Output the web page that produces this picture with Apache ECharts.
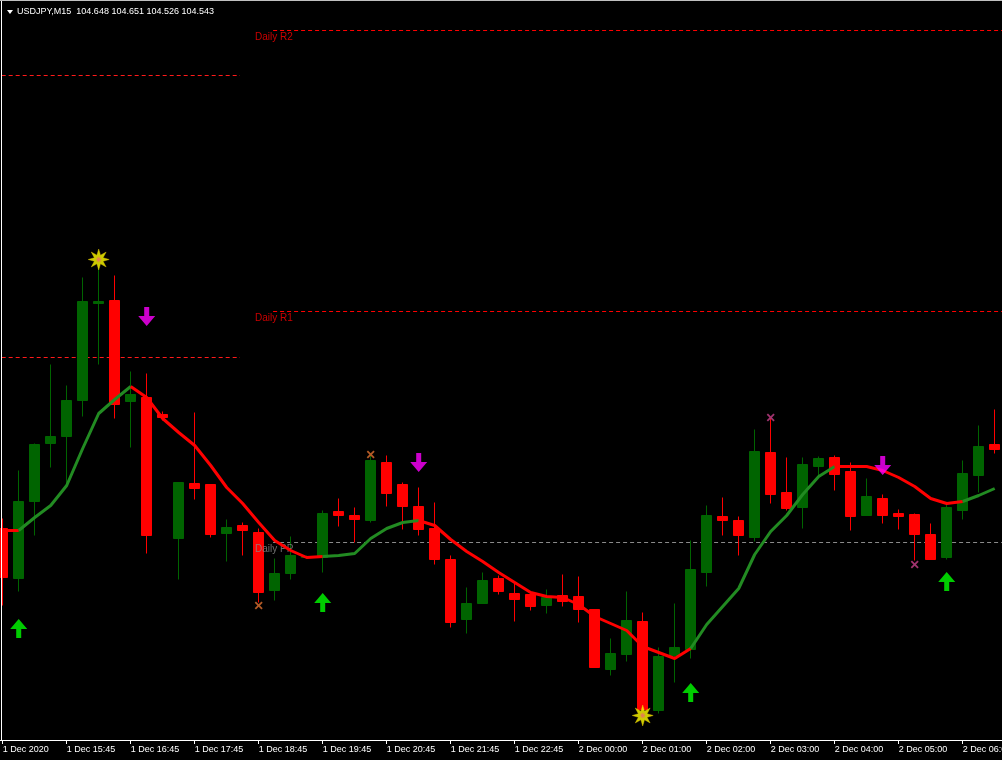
<!DOCTYPE html>
<html><head><meta charset="utf-8">
<script src="https://cdn.jsdelivr.net/npm/echarts@6/dist/echarts.min.js"></script>
<style>html,body{margin:0;padding:0;background:#000;}#c{width:1002px;height:760px;}</style>
</head><body><div id="c"></div>
<script>
// ---- data ----
const times = ['1 Dec 14:45','1 Dec 15:00','1 Dec 15:15','1 Dec 15:30','1 Dec 15:45','1 Dec 16:00','1 Dec 16:15','1 Dec 16:30','1 Dec 16:45','1 Dec 17:00',
'1 Dec 17:15','1 Dec 17:30','1 Dec 17:45','1 Dec 18:00','1 Dec 18:15','1 Dec 18:30','1 Dec 18:45','1 Dec 19:00','1 Dec 19:15','1 Dec 19:30',
'1 Dec 19:45','1 Dec 20:00','1 Dec 20:15','1 Dec 20:30','1 Dec 20:45','1 Dec 21:00','1 Dec 21:15','1 Dec 21:30','1 Dec 21:45','1 Dec 22:00',
'1 Dec 22:15','1 Dec 22:30','1 Dec 22:45','1 Dec 23:00','1 Dec 23:15','1 Dec 23:30','2 Dec 00:00','2 Dec 00:15','2 Dec 00:30','2 Dec 00:45',
'2 Dec 01:00','2 Dec 01:15','2 Dec 01:30','2 Dec 01:45','2 Dec 02:00','2 Dec 02:15','2 Dec 02:30','2 Dec 02:45','2 Dec 03:00','2 Dec 03:15',
'2 Dec 03:30','2 Dec 03:45','2 Dec 04:00','2 Dec 04:15','2 Dec 04:30','2 Dec 04:45','2 Dec 05:00','2 Dec 05:15','2 Dec 05:30','2 Dec 05:45',
'2 Dec 06:00','2 Dec 06:15','2 Dec 06:30'];
const tickLabels = ['1 Dec 2020','1 Dec 15:45','1 Dec 16:45','1 Dec 17:45','1 Dec 18:45','1 Dec 19:45','1 Dec 20:45','1 Dec 21:45',
'1 Dec 22:45','2 Dec 00:00','2 Dec 01:00','2 Dec 02:00','2 Dec 03:00','2 Dec 04:00','2 Dec 05:00','2 Dec 06:00'];

const opens = [104.472,104.422,104.499,104.557,104.564,104.600,104.697,104.700,104.599,104.603,
104.586,104.462,104.517,104.516,104.467,104.475,104.468,104.410,104.427,104.443,
104.443,104.489,104.485,104.480,104.538,104.516,104.494,104.472,104.441,104.381,
104.397,104.422,104.407,104.406,104.395,104.405,104.404,104.391,104.331,104.346,
104.379,104.290,104.345,104.351,104.428,104.484,104.480,104.463,104.548,104.508,
104.493,104.534,104.543,104.529,104.485,104.502,104.487,104.486,104.466,104.443,
104.490,104.525,104.556];
const closes = [104.423,104.499,104.556,104.564,104.600,104.699,104.699,104.596,104.606,104.465,
104.583,104.518,104.512,104.466,104.473,104.470,104.408,104.427,104.445,104.444,
104.487,104.485,104.481,104.540,104.507,104.494,104.471,104.441,104.378,104.397,
104.420,104.409,104.401,104.394,104.403,104.399,104.391,104.333,104.347,104.380,
104.291,104.344,104.353,104.431,104.485,104.480,104.465,104.549,104.506,104.492,
104.536,104.542,104.526,104.484,104.504,104.485,104.484,104.466,104.441,104.493,
104.527,104.554,104.551];
const lows = [104.395,104.409,104.465,104.533,104.517,104.584,104.636,104.582,104.553,104.447,
104.580,104.421,104.501,104.463,104.439,104.445,104.398,104.400,104.421,104.442,
104.428,104.474,104.458,104.478,104.494,104.471,104.465,104.436,104.373,104.367,
104.397,104.406,104.379,104.390,104.387,104.394,104.378,104.333,104.325,104.339,
104.290,104.287,104.318,104.342,104.414,104.465,104.445,104.459,104.497,104.490,
104.472,104.523,104.510,104.470,104.485,104.477,104.471,104.440,104.441,104.441,
104.481,104.508,104.547];
const highs = [104.482,104.530,104.557,104.636,104.615,104.723,104.734,104.725,104.629,104.627,
104.589,104.518,104.588,104.516,104.481,104.478,104.472,104.442,104.464,104.445,
104.490,104.502,104.493,104.545,104.545,104.518,104.513,104.498,104.445,104.413,
104.428,104.425,104.417,104.406,104.411,104.426,104.424,104.391,104.362,104.409,
104.388,104.353,104.397,104.460,104.495,104.503,104.484,104.571,104.582,104.543,
104.543,104.544,104.545,104.538,104.522,104.506,104.491,104.487,104.477,104.496,
104.540,104.575,104.591];

const ma = [104.470,104.470,104.483,104.495,104.515,104.552,104.587,104.601,104.614,104.603,
104.582,104.568,104.555,104.535,104.513,104.497,104.478,104.460,104.450,104.443,
104.444,104.445,104.447,104.462,104.472,104.478,104.480,104.475,104.461,104.449,
104.439,104.428,104.418,104.408,104.404,104.403,104.396,104.384,104.377,104.370,
104.354,104.348,104.342,104.352,104.376,104.394,104.412,104.446,104.469,104.485,
104.506,104.524,104.534,104.534,104.534,104.530,104.523,104.514,104.502,104.497,
104.499,104.505,104.512];
// trend segments of the MA line: [fromIndex, toIndex, direction]
const maSegments = [[0,1,'down'],[1,8,'up'],[8,20,'down'],[20,26,'up'],[26,43,'down'],[43,52,'up'],[52,60,'down'],[60,62,'up']];

// pivot levels
const levelNames = ['Daily R2','Daily R1','Daily PP'];
const levelValues = [104.970, 104.689, 104.458];
const levelStart = 16.9;
const labelStart = 15.77;
// previous day's levels (end at index)
const prevLevelValues = [104.925, 104.643];
const prevLevelEnd = 14.83;

// signal markers [index, price]
const buyArrows = [[1,104.372],[20,104.398],[43,104.308],[59,104.419]];
const sellArrows = [[9,104.684],[26,104.538],[55,104.535]];
const stars = [[6,104.741],[40,104.285]];
const crossOrange = [[23,104.546],[16,104.395]];
const crossPink = [[48,104.583],[57,104.436]];

const titleText = 'USDJPY,M15  104.648 104.651 104.526 104.543';

// ---- build ----
const ohlc = opens.map((o,i)=>[o, closes[i], lows[i], highs[i]]);

function starPath(points, rIn){
  let s = 'path://';
  for (let k=0;k<points*2;k++){
    const a = -Math.PI/2 + k*Math.PI/points;
    const r = (k%2===0)?50:50*rIn;
    s += (k===0?'M':'L') + (50+r*Math.cos(a)).toFixed(2) + ',' + (50+r*Math.sin(a)).toFixed(2) + ' ';
  }
  return s + 'Z';
}
const STAR = starPath(8, 0.45);
const UP = 'path://M8.5,0 L17,10 L11,10 L11,19 L6,19 L6,10 L0,10 Z';
const DOWN = 'path://M8.5,19 L17,9 L11,9 L11,0 L6,0 L6,9 L0,9 Z';
const CROSS = 'path://M0,1.6 L1.6,0 L5,3.4 L8.4,0 L10,1.6 L6.6,5 L10,8.4 L8.4,10 L5,6.6 L1.6,10 L0,8.4 L3.4,5 Z';

const series = [];
prevLevelValues.forEach(v=>{
  series.push({type:'line', xAxisIndex:1, data:[[-0.5,v],[prevLevelEnd,v]], showSymbol:false, silent:true, z:1,
    lineStyle:{color:'#ff1a1a', width:1, type:[4,3]}});
});
levelValues.forEach((v,i)=>{
  const col = levelNames[i]==='Daily PP' ? '#8a8a8a' : '#ff0000';
  series.push({type:'line', xAxisIndex:1, data:[[levelStart,v],[62.5,v]], showSymbol:false, silent:true, z:1,
    lineStyle:{color:col, width:1, type:[4,3]}});
  series.push({type:'scatter', xAxisIndex:1, data:[[labelStart,v]], symbolSize:0, silent:true, z:3,
    label:{show:true, position:[0,2], align:'left', verticalAlign:'top', formatter:levelNames[i],
      color:col, fontSize:10, fontFamily:'Liberation Sans'}});
});
series.push({type:'candlestick', xAxisIndex:0, data:ohlc, barWidth:10, z:2,
  itemStyle:{color:'#006400', color0:'#ff0000', borderColor:'#006400', borderColor0:'#ff0000', borderWidth:1}});
maSegments.forEach(([a,b,dir])=>{
  series.push({type:'line', xAxisIndex:0, data:ma.map((v,i)=> (i>=a && i<=b) ? v : '-'),
    showSymbol:false, silent:true, z:4, connectNulls:false,
    lineStyle:{color: dir==='up' ? '#228b22' : '#ff0000', width:3}});
});
series.push({type:'scatter', xAxisIndex:0, data:buyArrows, symbol:UP, symbolSize:[17,19], z:5, itemStyle:{color:'#00ff00'}});
series.push({type:'scatter', xAxisIndex:0, data:sellArrows, symbol:DOWN, symbolSize:[17,19], z:5, itemStyle:{color:'#ff00ff'}});
series.push({type:'scatter', xAxisIndex:0, data:stars, symbol:STAR, symbolSize:21, z:5, itemStyle:{color:'#ffff00', borderColor:'#e8c800', borderWidth:0.5}});
series.push({type:'scatter', xAxisIndex:0, data:stars, symbol:STAR, symbolSize:7, z:6, itemStyle:{color:'#e87060'}});
series.push({type:'scatter', xAxisIndex:0, data:crossOrange, symbol:CROSS, symbolSize:8, z:5, itemStyle:{color:'#e07030'}});
series.push({type:'scatter', xAxisIndex:0, data:crossPink, symbol:CROSS, symbolSize:8, z:5, itemStyle:{color:'#c8408a'}});

const chart = echarts.init(document.getElementById('c'), null, {renderer:'canvas'});
chart.setOption({
  backgroundColor:'#000000',
  animation:false,
  grid:{left:-5.3, top:0, width:1008, height:740, containLabel:false, outerBoundsMode:'none'},
  xAxis:[
    {type:'category', data:times, boundaryGap:true,
     axisLine:{show:true, lineStyle:{color:'#ffffff', width:1}},
     axisTick:{show:true, interval:3, alignWithLabel:true, length:4, lineStyle:{color:'#ffffff'}},
     axisLabel:{show:true, interval:3, align:'left', color:'#ffffff', fontSize:9, fontFamily:'Liberation Sans', margin:5,
       hideOverlap:false, formatter:(v,i)=> (i%4===0 ? tickLabels[i/4] : '')},
     splitLine:{show:false}},
    {type:'value', min:-0.5, max:62.5, show:false}
  ],
  yAxis:{type:'value', min:104.2605, max:105.0005, show:false, splitLine:{show:false}},
  series: series,
  graphic:[
    {type:'line', shape:{x1:1.5,y1:0,x2:1.5,y2:740}, style:{stroke:'#ffffff', lineWidth:1}, z:10, silent:true},
    {type:'line', shape:{x1:0,y1:0.5,x2:1002,y2:0.5}, style:{stroke:'#c0c0c0', lineWidth:1}, z:10, silent:true},
    {type:'polygon', shape:{points:[[7,10],[13,10],[10,14]]}, style:{fill:'#ffffff'}, z:10, silent:true},
    {type:'text', x:17, y:12, style:{text:titleText, fill:'#ffffff', font:'9px "Liberation Sans"', verticalAlign:'middle'}, z:10, silent:true}
  ]
});
</script></body></html>
